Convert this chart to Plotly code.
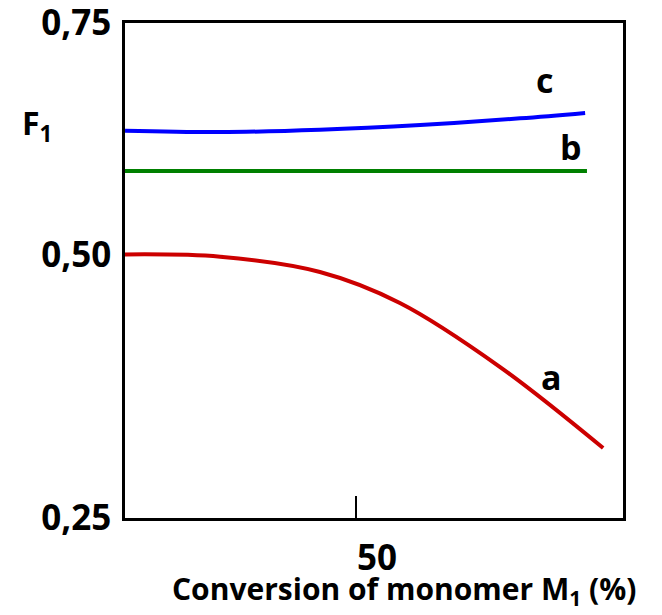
import plotly.graph_objects as go

# Conversion of monomer M1 (%)
x_a = [0, 20.6, 42.2, 59.5, 81.2, 103.5]
F_a = [0.5162, 0.5139, 0.4985, 0.4672, 0.4025, 0.3207]

x_b = [0, 100]
F_b = [0.6005, 0.6005]

x_c = [0, 20.6, 42.2, 63.9, 85.5, 99.6]
F_c = [0.6412, 0.6398, 0.6422, 0.6470, 0.6537, 0.6592]

y_tickvals = [0.25, 0.5157, 0.75]
y_ticktext = ["0,25", "0,50", "0,75"]
x_tickvals = [50]
x_ticktext = ["50"]

FONT = "Open Sans"

fig = go.Figure()
fig.add_trace(go.Scatter(x=x_a, y=F_a, mode="lines", line=dict(color="#CC0000", width=4, shape="spline", smoothing=1), showlegend=False))
fig.add_trace(go.Scatter(x=x_b, y=F_b, mode="lines", line=dict(color="#008000", width=4), showlegend=False))
fig.add_trace(go.Scatter(x=x_c, y=F_c, mode="lines", line=dict(color="#0000FF", width=4, shape="spline", smoothing=1), showlegend=False))

for txt, xx, yy in [("c", 90.9, 0.692), ("b", 96.5, 0.6247), ("a", 92.4, 0.3924)]:
    fig.add_annotation(x=xx, y=yy, text=txt, showarrow=False,
                       font=dict(family=FONT, size=34, color="black", weight="bold"))

fig.add_annotation(xref="paper", yref="paper", x=-0.177, y=0.794, xanchor="center", yanchor="middle",
                   text="F<sub>1</sub>", showarrow=False,
                   font=dict(family=FONT, size=32, color="black", weight="bold"))
fig.add_annotation(xref="paper", yref="paper", x=0.56, y=0, yshift=-72, xanchor="center", yanchor="middle",
                   text="Conversion of monomer M<sub>1</sub> (%)", showarrow=False,
                   font=dict(family=FONT, size=30, color="black", weight="bold"))

fig.update_layout(
    width=654, height=607,
    margin=dict(l=117, r=39, t=15, b=97),
    plot_bgcolor="white", paper_bgcolor="white",
    font=dict(family=FONT, color="black", weight="bold"),
    xaxis=dict(range=[0, 107.8], showgrid=False, zeroline=False, automargin=False,
               showline=True, linecolor="black", linewidth=2.5, mirror=True,
               tickvals=x_tickvals, ticktext=x_ticktext, ticks="inside", ticklen=22,
               tickwidth=2, tickcolor="black", ticklabelshift=21, ticklabelstandoff=7,
               ticklabeloverflow="allow",
               tickfont=dict(family=FONT, size=35, color="black", weight="bold")),
    yaxis=dict(range=[0.25, 0.75], showgrid=False, zeroline=False, automargin=False,
               showline=True, linecolor="black", linewidth=2.5, mirror=True,
               tickvals=y_tickvals, ticktext=y_ticktext, ticks="",
               ticklabelstandoff=4, ticklabeloverflow="allow",
               tickfont=dict(family=FONT, size=35, color="black", weight="bold")),
)

fig.write_html("out.html")
